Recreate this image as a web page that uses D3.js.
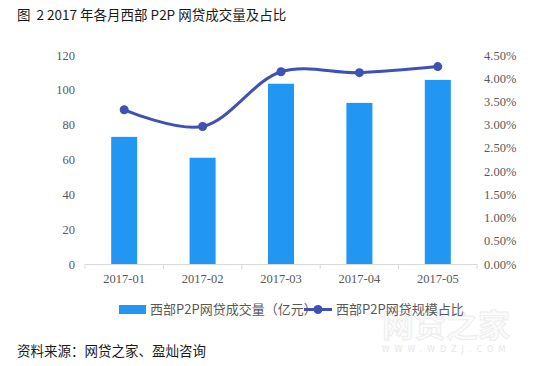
<!DOCTYPE html>
<html>
<head>
<meta charset="utf-8">
<script src="https://cdn.jsdelivr.net/npm/d3@7"></script>
<style>
  body { margin: 0; background: #fff; }
  svg { display: block; }
</style>
</head>
<body>
<svg id="chart" width="542" height="366"></svg>
<script>
// data
var months = ["2017-01", "2017-02", "2017-03", "2017-04", "2017-05"]
var volume = [73, 61, 103.5, 92.5, 105.7]          // 西部P2P网贷成交量（亿元）
var share = [0.0332, 0.0296, 0.0414, 0.0412, 0.0425] // 西部P2P网贷规模占比
var leftTicks = [0, 20, 40, 60, 80, 100, 120]
var rightTicks = [0, 0.005, 0.01, 0.015, 0.02, 0.025, 0.03, 0.035, 0.04, 0.045]

var barColor = "#2196f3"
var lineColor = "#3f51b5"
var serif = "'Liberation Serif', 'Times New Roman', serif"
var cjk = "'Noto Sans CJK SC', 'Noto Sans', sans-serif"

var svg = d3.select("#chart")

var x = d3.scaleBand().domain(months).range([85, 477]).paddingInner(0).paddingOuter(0)
var yL = d3.scaleLinear().domain([0, 120]).range([264, 55])
var yR = d3.scaleLinear().domain([0, 0.045]).range([264, 55])

// title
svg.append("text")
    .attr("x", 17).attr("y", 20)
    .style("white-space", "pre")
    .style("font-family", cjk).style("font-size", "13.5px").style("fill", "#1a1a1a")
    .text("图  2 2017 年各月西部 P2P 网贷成交量及占比")

// watermark
var wm = svg.append("g")
wm.append("text")
    .attr("x", 446).attr("y", 337).attr("text-anchor", "middle")
    .style("font-family", cjk).style("font-size", "32px").style("font-weight", "bold")
    .style("fill", "#fbfbfb").style("stroke", "#eeeeee").style("stroke-width", 1)
    .text("网贷之家")
wm.append("text")
    .attr("x", 446).attr("y", 352).attr("text-anchor", "middle")
    .style("font-family", "'DejaVu Sans', sans-serif").style("font-size", "8px")
    .style("letter-spacing", "5px").style("fill", "#e6e6e6")
    .text("WWW.WDZJ.COM")

// bars
svg.selectAll(".bar")
    .data(months)
    .enter().append("rect")
    .attr("class", "bar")
    .attr("x", function (d) { return x(d) + x.bandwidth() / 2 - 13 })
    .attr("width", 26)
    .attr("y", function (d, i) { return yL(volume[i]) })
    .attr("height", function (d, i) { return yL(0) - yL(volume[i]) })
    .attr("fill", barColor)

// x axis
var xAxis = svg.append("g")
    .attr("transform", "translate(0," + yL(0) + ")")
    .call(d3.axisBottom(x).tickSize(0).tickPadding(10))
xAxis.select(".domain").attr("stroke", "#d9d9d9")
xAxis.selectAll("text")
    .style("font-family", serif).style("font-size", "12.5px").style("fill", "#595959")
var xb = [85].concat(months.map(function (d) { return x(d) + x.bandwidth() }))
xAxis.selectAll(".sep")
    .data(xb)
    .enter().append("line")
    .attr("x1", function (d) { return d }).attr("x2", function (d) { return d })
    .attr("y1", 0).attr("y2", 5)
    .attr("stroke", "#d9d9d9")

// left axis
var yAxisL = svg.append("g")
    .attr("transform", "translate(85,0)")
    .call(d3.axisLeft(yL).tickValues(leftTicks).tickSize(0).tickPadding(10))
yAxisL.select(".domain").remove()
yAxisL.selectAll("text")
    .style("font-family", serif).style("font-size", "12.5px").style("fill", "#595959")

// right axis
var yAxisR = svg.append("g")
    .attr("transform", "translate(477,0)")
    .call(d3.axisRight(yR).tickValues(rightTicks).tickSize(0).tickPadding(7)
        .tickFormat(d3.format(".2%")))
yAxisR.select(".domain").remove()
yAxisR.selectAll("text")
    .style("font-family", serif).style("font-size", "12.5px").style("fill", "#595959")

// line
var line = d3.line()
    .x(function (d, i) { return x(months[i]) + x.bandwidth() / 2 })
    .y(function (d) { return yR(d) })
    .curve(d3.curveCatmullRom.alpha(0.5))

svg.append("path")
    .datum(share)
    .attr("d", line)
    .attr("fill", "none")
    .attr("stroke", lineColor)
    .attr("stroke-width", 3)

svg.selectAll(".dot")
    .data(share)
    .enter().append("circle")
    .attr("cx", function (d, i) { return x(months[i]) + x.bandwidth() / 2 })
    .attr("cy", function (d) { return yR(d) })
    .attr("r", 4.5)
    .attr("fill", lineColor)

// legend
var legend = svg.append("g")
legend.append("rect")
    .attr("x", 119).attr("y", 305).attr("width", 27).attr("height", 9)
    .attr("fill", barColor)
legend.append("text")
    .attr("x", 150).attr("y", 314)
    .style("font-family", cjk).style("font-size", "13px").style("fill", "#595959")
    .text("西部P2P网贷成交量（亿元）")
legend.append("line")
    .attr("x1", 304).attr("x2", 332).attr("y1", 309.5).attr("y2", 309.5)
    .attr("stroke", lineColor).attr("stroke-width", 3)
legend.append("circle")
    .attr("cx", 318).attr("cy", 309.5).attr("r", 4.5).attr("fill", lineColor)
legend.append("text")
    .attr("x", 336).attr("y", 314)
    .style("font-family", cjk).style("font-size", "13px").style("fill", "#595959")
    .text("西部P2P网贷规模占比")

// source
svg.append("text")
    .attr("x", 17).attr("y", 356)
    .style("font-family", cjk).style("font-size", "13.5px").style("fill", "#1a1a1a")
    .text("资料来源：网贷之家、盈灿咨询")
</script>
</body>
</html>
